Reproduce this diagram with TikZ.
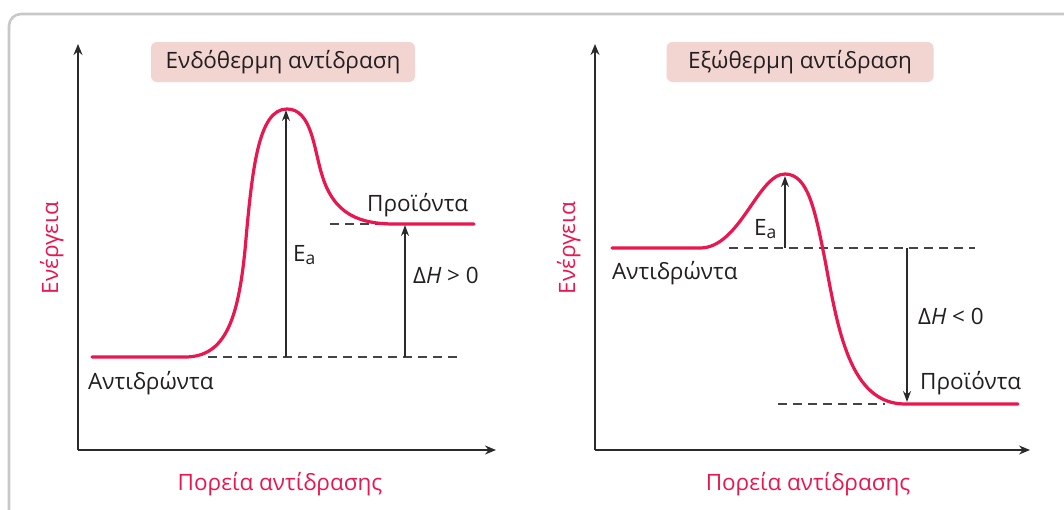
\documentclass[tikz,border=0pt]{standalone}
\usepackage{fontspec}
\setmainfont{Open Sans}
\usetikzlibrary{arrows.meta}
\definecolor{curvered}{HTML}{E8174F}
\definecolor{labelred}{HTML}{E8174F}
\definecolor{textdark}{HTML}{231F20}
\definecolor{axisgray}{HTML}{2A2A2A}
\definecolor{dashgray}{HTML}{444444}
\definecolor{titlefill}{HTML}{F2D4D0}
\definecolor{framegray}{HTML}{C8C8C8}
\newcommand{\sublbl}[1]{\raisebox{-0.32ex}{\fontsize{17.5}{20}\selectfont #1}}
\begin{document}
\begin{tikzpicture}[x=1pt,y=-1pt,
  lbl/.style={font=\fontsize{22.5}{27}\selectfont, text=textdark, inner sep=0pt, anchor=base west},
  redlbl/.style={font=\fontsize{22.5}{27}\selectfont, text=labelred, inner sep=0pt, anchor=base},
  titlebox/.style={font=\fontsize{22.5}{27}\selectfont, text=textdark, fill=titlefill, rounded corners=6pt, minimum height=40pt, inner sep=0pt},
  axis/.style={draw=axisgray, line width=1.6pt, -{Stealth[length=11pt,width=9pt]}},
  levelarrow/.style={draw=axisgray, line width=1.2pt, -{Stealth[length=11pt,width=8pt]}},
  dashline/.style={draw=dashgray, line width=1.3pt, dash pattern=on 9pt off 6pt},
  energycurve/.style={draw=curvered, line width=3.2pt, line cap=round}
]
\useasboundingbox (0,0) rectangle (1064,509);
\clip (0,0) rectangle (1064,509);
\fill[white] (0,0) rectangle (1064,509);
\draw[framegray, line width=2.6pt, rounded corners=12pt] (9,14) rectangle (1090,540);

% ---------- left panel ----------
\coordinate (LO) at (78,450);
\coordinate (LY) at (78,44);
\coordinate (LX) at (496,450);
\draw[axis] (LO) -- (LY);
\draw[axis] (LO) -- (LX);

\node[titlebox, minimum width=264pt] (Ltitle) at (283,62) {Ενδόθερμη αντίδραση};

\coordinate (LdA1) at (208,357);
\coordinate (LdA2) at (462,357);
\coordinate (LdP1) at (330,224);
\coordinate (LdP2) at (400,224);
\draw[dashline] (LdA1) -- (LdA2);
\draw[dashline] (LdP1) -- (LdP2);

\draw[energycurve] (92,357) -- (185,357)
  .. controls (225,357) and (238,320) .. (245,250)
  .. controls (252,170) and (258,109) .. (287,109)
  .. controls (312,109) and (314,150) .. (322,175)
  .. controls (334,215) and (360,224) .. (395,224) -- (474,224);

\coordinate (LEa0) at (286,357);
\coordinate (LEa1) at (286,110);
\draw[levelarrow] (LEa0) -- (LEa1);
\coordinate (LH0) at (405,357);
\coordinate (LH1) at (405,225);
\draw[levelarrow] (LH0) -- (LH1);

\node[lbl] (LReac) at (88,389) {Αντιδρώντα};
\node[lbl] (LProd) at (367,211) {Προϊόντα};
\node[lbl] (LEa) at (293,261) {E\sublbl{a}};
\node[lbl] (LdH) at (413,283) {Δ{\itshape H} > 0};
\node[redlbl] (LxL) at (280,490) {Πορεία αντίδρασης};
\node[redlbl, rotate=90] (LyL) at (58,248) {Ενέργεια};

% ---------- right panel ----------
\coordinate (RO) at (595,450);
\coordinate (RY) at (595,44);
\coordinate (RX) at (1030,450);
\draw[axis] (RO) -- (RY);
\draw[axis] (RO) -- (RX);

\node[titlebox, minimum width=267pt] (Rtitle) at (800,62) {Εξώθερμη αντίδραση};

\coordinate (RdA1) at (729,248);
\coordinate (RdA2) at (975,248);
\coordinate (RdP1) at (778,404);
\coordinate (RdP2) at (885,404);
\draw[dashline] (RdA1) -- (RdA2);
\draw[dashline] (RdP1) -- (RdP2);

\draw[energycurve] (612,248) -- (700,248)
  .. controls (740,248) and (758,174) .. (785,174)
  .. controls (808,174) and (815,210) .. (825,260)
  .. controls (838,330) and (850,404) .. (905,404) -- (1018,404);

\coordinate (REa0) at (785,248);
\coordinate (REa1) at (785,176);
\draw[levelarrow] (REa0) -- (REa1);
\coordinate (RH0) at (907,248);
\coordinate (RH1) at (907,402);
\draw[levelarrow] (RH0) -- (RH1);

\node[lbl] (RReac) at (612,279) {Αντιδρώντα};
\node[lbl] (RProd) at (920,389) {Προϊόντα};
\node[lbl] (REa) at (754,235) {E\sublbl{a}};
\node[lbl] (RdH) at (918,324) {Δ{\itshape H} < 0};
\node[redlbl] (RxL) at (808,490) {Πορεία αντίδρασης};
\node[redlbl, rotate=90] (RyL) at (575,248) {Ενέργεια};
\end{tikzpicture}
\end{document}
